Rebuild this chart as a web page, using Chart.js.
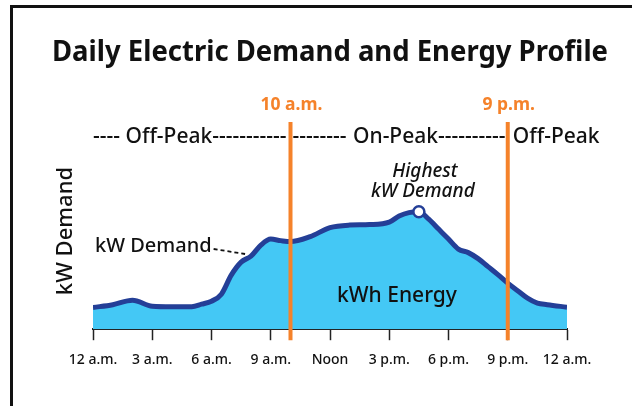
<!DOCTYPE html>
<html>
<head>
<meta charset="utf-8">
<script src="https://cdn.jsdelivr.net/npm/chart.js@4.4.1/dist/chart.umd.min.js"></script>
<style>
  html, body { margin: 0; padding: 0; background: #fff; }
  #wrap { position: relative; width: 634px; height: 406px; overflow: hidden; }
  #frame {
    position: absolute; left: 10px; top: 5px; width: 622px; height: 430px;
    border-left: 3px solid #111; border-top: 3px solid #111; box-sizing: border-box;
  }
  canvas { position: absolute; left: 0; top: 0; }
</style>
</head>
<body>
<div id="wrap">
  <div id="frame"></div>
  <canvas id="profileChart" width="634" height="406"></canvas>
</div>
<script>
// Hours of the day and demand (relative kW)
const hours = [0, 1, 2, 3, 4, 5, 5.5, 6, 6.5, 7, 7.5, 8, 8.5, 9, 9.5, 10, 11, 12, 13, 14, 15, 15.5, 16, 16.5,
  17, 17.5, 18, 18.5, 19, 19.5, 20, 20.5, 21, 21.5, 22, 22.5, 23, 24];
const demand = [21.7, 24.5, 29, 23, 22.5, 22.5, 25, 28, 35, 54, 67, 73, 84, 90, 88.5, 87.5, 92.5, 101.5, 104, 104.5, 107, 113, 116.5, 117.3,
  110, 100, 90, 80, 76.5, 70.5, 62.5, 54.5, 46, 38.5, 31, 26, 24.5, 22];

const tickHours = [0, 3, 6, 9, 12, 15, 18, 21, 24];
const tickLabels = ['12 a.m.', '3 a.m.', '6 a.m.', '9 a.m.', 'Noon', '3 p.m.', '6 p.m.', '9 p.m.', '12 a.m.'];

const peakWindow = [10, 21];
const peakWindowLabels = ['10 a.m.', '9 p.m.'];
const peakHour = 16.5;

const FONT = '"Noto Sans", "Open Sans", sans-serif';
const ORANGE = '#f5822a';
const NAVY = '#243f97';
const SKY = '#44c8f5';

const peakIndex = hours.indexOf(peakHour);

// Draws the peak lines and all the annotation text
const annotations = {
  id: 'annotations',
  afterDraw(chart) {
    const ctx = chart.ctx;
    const xs = chart.scales.x;
    const ys = chart.scales.y;
    const area = chart.chartArea;

    ctx.save();

    // title
    ctx.fillStyle = '#111';
    ctx.textAlign = 'center';
    ctx.textBaseline = 'alphabetic';
    ctx.font = 'bold 29px ' + FONT;
    ctx.fillText('Daily Electric Demand and Energy Profile', 330, 61, 556);

    // on-peak window lines
    ctx.strokeStyle = ORANGE;
    ctx.lineWidth = 4;
    peakWindow.forEach((h, i) => {
      const x = xs.getPixelForValue(h);
      ctx.beginPath();
      ctx.moveTo(x, area.top);
      ctx.lineTo(x, area.bottom + 11);
      ctx.stroke();
      ctx.fillStyle = ORANGE;
      ctx.font = 'bold 17.5px ' + FONT;
      ctx.textBaseline = 'middle';
      ctx.fillText(peakWindowLabels[i], x + 1, 105);
    });

    // off-peak / on-peak row
    const x1 = xs.getPixelForValue(peakWindow[0]);
    const x2 = xs.getPixelForValue(peakWindow[1]);
    const rowY = 137;
    ctx.fillStyle = '#111';
    ctx.font = '500 21px ' + FONT;
    ctx.textBaseline = 'middle';
    ctx.textAlign = 'left';
    const dash = ctx.measureText('-').width;
    const fillDashes = (a, b) => {
      const n = Math.max(0, Math.floor((b - a) / dash));
      ctx.fillText('-'.repeat(n), a, rowY);
    };
    let t = '---- Off-Peak';
    ctx.fillText(t, area.left, rowY);
    fillDashes(area.left + ctx.measureText(t).width, x1 - 2);
    t = 'On-Peak';
    const onW = ctx.measureText(t).width;
    const onX = 353;
    fillDashes(x1 + 2, onX);
    ctx.fillText(t, onX, rowY);
    fillDashes(onX + onW, x2 - 2);
    ctx.fillText('Off-Peak', x2 + 5, rowY);

    // highest demand callout
    const px = xs.getPixelForValue(peakHour);
    const py = ys.getPixelForValue(demand[peakIndex]);
    ctx.textAlign = 'center';
    ctx.font = 'italic 500 19px ' + FONT;
    ctx.fillText('Highest', px + 6, py - 40);
    ctx.fillText('kW Demand', px + 4, py - 20);

    // kW Demand leader
    ctx.textAlign = 'left';
    ctx.font = '500 20px ' + FONT;
    ctx.fillText('kW Demand', area.left + 2, 246);
    const lw = ctx.measureText('kW Demand').width;
    ctx.strokeStyle = '#111';
    ctx.lineWidth = 1.8;
    ctx.setLineDash([4, 3]);
    ctx.beginPath();
    ctx.moveTo(area.left + 4 + lw, 249);
    ctx.lineTo(xs.getPixelForValue(7.7), 254);
    ctx.stroke();
    ctx.setLineDash([]);

    // energy label
    ctx.textAlign = 'center';
    ctx.font = '500 21px ' + FONT;
    ctx.fillText('kWh Energy', 397, 296);

    // y axis label
    ctx.translate(66, 231);
    ctx.rotate(-Math.PI / 2);
    ctx.font = '500 22px ' + FONT;
    ctx.fillText('kW Demand', 0, 0);

    ctx.restore();
  }
};

new Chart(document.getElementById('profileChart'), {
  type: 'line',
  data: {
    datasets: [{
      data: hours.map((h, i) => ({ x: h, y: demand[i] })),
      borderColor: NAVY,
      borderWidth: 5,
      backgroundColor: SKY,
      fill: 'origin',
      tension: 0.4,
      cubicInterpolationMode: 'monotone',
      pointRadius: hours.map((h, i) => i === peakIndex ? 5.5 : 0),
      pointBackgroundColor: '#fff',
      pointBorderColor: NAVY,
      pointBorderWidth: 2.5
    }]
  },
  options: {
    responsive: false,
    animation: false,
    layout: { padding: { left: 93, right: 67, top: 122, bottom: 27 } },
    plugins: {
      legend: { display: false },
      tooltip: { enabled: false },
      title: { display: false }
    },
    scales: {
      x: {
        type: 'linear',
        min: 0,
        max: 24,
        afterBuildTicks: axis => { axis.ticks = tickHours.map(v => ({ value: v })); },
        grid: { drawOnChartArea: false, drawTicks: true, tickLength: 11, color: '#222', tickWidth: 1.5 },
        border: { display: true, color: '#222', width: 2 },
        ticks: {
          autoSkip: false,
          maxRotation: 0,
          padding: 11,
          color: '#111',
          font: { family: FONT, size: 14, weight: '500' },
          callback: v => tickLabels[tickHours.indexOf(v)]
        }
      },
      y: { display: false, min: 0, max: 207 }
    }
  },
  plugins: [annotations]
});
</script>
</body>
</html>
